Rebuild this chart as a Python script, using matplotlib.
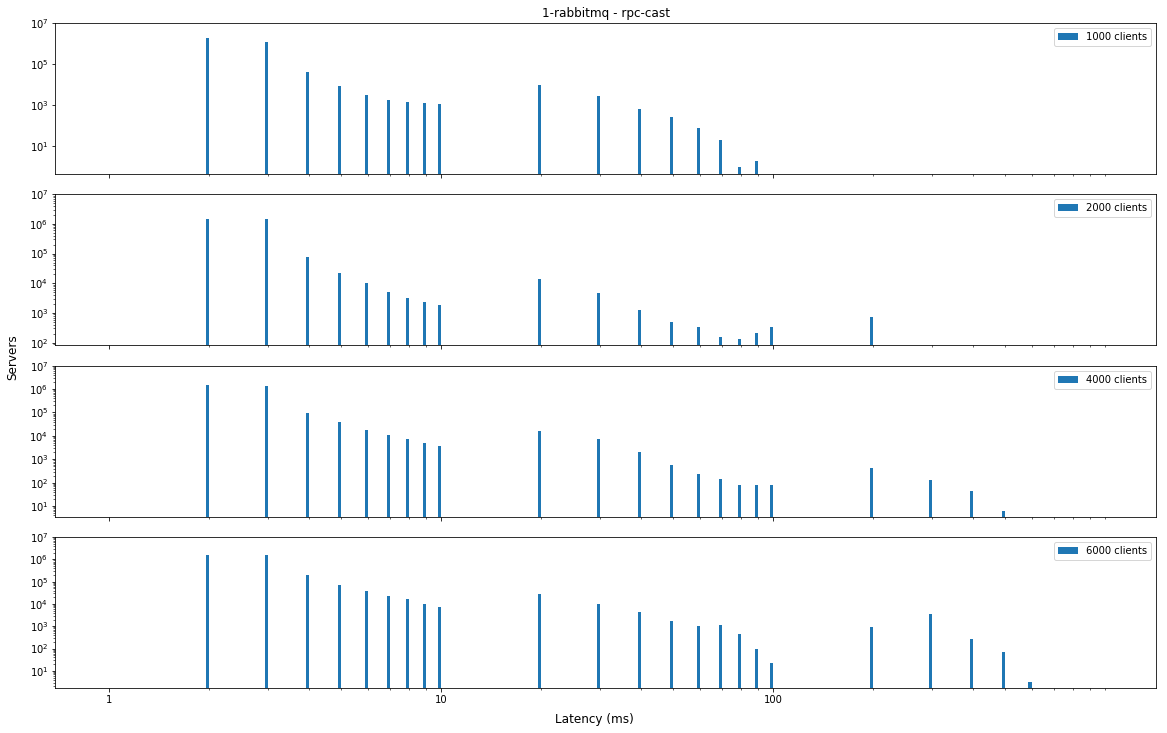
import matplotlib
matplotlib.use("Agg")
import matplotlib.pyplot as plt
from matplotlib.ticker import FixedLocator, NullFormatter, NullLocator, ScalarFormatter

# ── data ────────────────────────────────────────────────
TITLE = "1-rabbitmq - rpc-cast"

lat_1000 = [2, 3, 4, 5, 6, 7, 8, 9, 10, 20, 30, 40, 50, 60, 70, 80, 90]
srv_1000 = [1.85e6, 1.2e6, 4.0e4, 8.5e3, 3.1e3, 1.75e3, 1.4e3, 1.25e3, 1.1e3,
            9.5e3, 2.8e3, 640, 260, 75, 20, 1.0, 2.0]

lat_2000 = [2, 3, 4, 5, 6, 7, 8, 9, 10, 20, 30, 40, 50, 60, 70, 80, 90, 100, 200]
srv_2000 = [1.5e6, 1.5e6, 7.7e4, 2.2e4, 1.0e4, 5.1e3, 3.2e3, 2.4e3, 1.9e3,
            1.4e4, 4.8e3, 1.3e3, 500, 340, 158, 135, 215, 340, 740]

lat_4000 = [2, 3, 4, 5, 6, 7, 8, 9, 10, 20, 30, 40, 50, 60, 70, 80, 90, 100,
            200, 300, 400, 500]
srv_4000 = [1.5e6, 1.4e6, 9.6e4, 3.9e4, 1.8e4, 1.07e4, 7.2e3, 4.9e3, 3.6e3,
            1.6e4, 7.2e3, 2.0e3, 550, 230, 138, 77, 77, 77,
            410, 125, 43, 6.5]

lat_6000 = [2, 3, 4, 5, 6, 7, 8, 9, 10, 20, 30, 40, 50, 60, 70, 80, 90, 100,
            200, 300, 400, 500, 600]
srv_6000 = [1.5e6, 1.5e6, 1.9e5, 7.4e4, 4.0e4, 2.4e4, 1.6e4, 1.05e4, 7.6e3,
            2.9e4, 1.05e4, 4.6e3, 1.8e3, 1.07e3, 1.18e3, 470, 98, 23,
            960, 3.7e3, 275, 74, 3.3]

series = [
    ("1000 clients", lat_1000, srv_1000, 0.46),
    ("2000 clients", lat_2000, srv_2000, 81),
    ("4000 clients", lat_4000, srv_4000, 3.5),
    ("6000 clients", lat_6000, srv_6000, 1.66),
]
# ────────────────────────────────────────────────────────

fig, axes = plt.subplots(4, 1, sharex=True, figsize=(1167 / 72, 733 / 72), dpi=72)
fig.subplots_adjust(left=0.0474, right=0.9908, top=0.969, bottom=0.061, hspace=0.134)

minor_x = [m * d for d in (1, 10, 100) for m in range(2, 10)] + [1000]

for i, (name, lat, srv, ybot) in enumerate(series):
    ax = axes[i]
    # bars end on the latency value (drawn to the left of it)
    widths = [-0.021 * x for x in lat]
    ax.bar(lat, srv, width=widths, align='edge', color='#1f77b4', label=name)
    ax.set_xscale('log')
    ax.set_yscale('log')
    ax.set_ylim(ybot, 1e7)
    ax.legend(loc='upper right')

    if i == 0:
        ax.yaxis.set_major_locator(FixedLocator([1e1, 1e3, 1e5, 1e7]))
        ax.yaxis.set_minor_locator(NullLocator())
    else:
        ax.yaxis.set_major_locator(FixedLocator([10.0 ** k for k in range(0, 8)]))
        minor_y = [m * 10.0 ** k for k in range(0, 7) for m in range(2, 10)]
        ax.yaxis.set_minor_locator(FixedLocator(minor_y))
        ax.yaxis.set_minor_formatter(NullFormatter())

axes[0].set_title(TITLE)

ax = axes[-1]
ax.set_xlim(10 ** -0.163, 10 ** 3.154)
ax.xaxis.set_major_locator(FixedLocator([1, 10, 100]))
ax.xaxis.set_major_formatter(ScalarFormatter())
ax.xaxis.set_minor_locator(FixedLocator(minor_x))
ax.xaxis.set_minor_formatter(NullFormatter())

fig.text(594 / 1167, 1 - 719 / 733, "Latency (ms)", ha='center', va='center', fontsize=12)
fig.text(13 / 1167, 1 - 357 / 733, "Servers", ha='center', va='center',
         rotation=90, fontsize=12)

plt.savefig("out.png", dpi=72)
plt.close()
